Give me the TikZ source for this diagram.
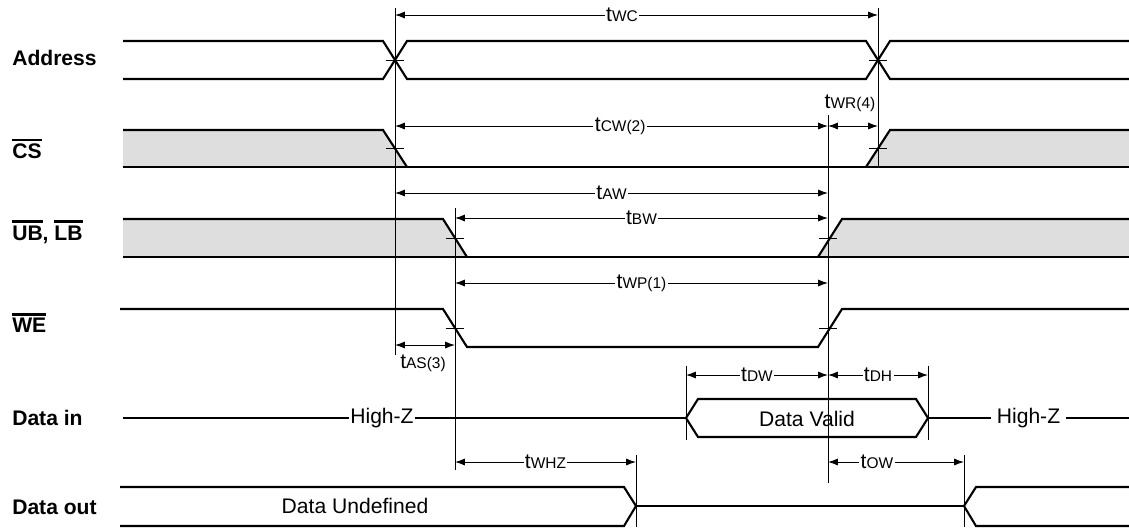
\documentclass[tikz,border=0pt]{standalone}
\usepackage{fontspec}
\setmainfont{Liberation Sans}
\usetikzlibrary{arrows.meta}
\definecolor{lowfill}{HTML}{DEDEDE}
\newcommand{\ovl}[1]{\vbox{\hrule height 1.8pt\kern 2pt\hbox{#1}}}
\newcommand{\tsub}[1]{t{\fontsize{11}{13}\selectfont #1}}
\begin{document}
\begin{tikzpicture}[x=0.025cm,y=-0.025cm,
  font=\fontsize{15}{18}\selectfont,
  signame/.style={anchor=west, inner sep=0pt, font=\fontsize{15}{18}\selectfont\bfseries},
  wave/.style={line width=1.5pt},
  guide/.style={line width=0.7pt},
  span/.style={{Latex[length=7pt,width=5pt]}-{Latex[length=7pt,width=5pt]}, line width=0.7pt},
  tlabel/.style={fill=white, inner sep=1pt}]
  \useasboundingbox (0,0) rectangle (1129,529);

  \node[signame] (addr) at (12,58) {Address};
  \node[signame] (cs) at (12,149) {\ovl{CS}};
  \node[signame] (ublb) at (12,232) {\ovl{UB}, \ovl{LB}};
  \node[signame] (we) at (12,323) {\ovl{WE}};
  \node[signame] (din) at (12,418) {Data in};
  \node[signame] (dout) at (12,507) {Data out};

  \fill[lowfill] (123,130) -- (383,130) -- (407,167) -- (123,167) -- cycle;
  \fill[lowfill] (866,167) -- (890,130) -- (1129,130) -- (1129,167) -- cycle;
  \fill[lowfill] (123,219) -- (443,219) -- (467,257) -- (123,257) -- cycle;
  \fill[lowfill] (818,257) -- (842,219) -- (1129,219) -- (1129,257) -- cycle;

  \draw[guide] (395,8) -- (395,355);
  \draw[guide] (878,8) -- (878,168);
  \draw[guide] (455,208) -- (455,470);
  \draw[guide] (828,115) -- (828,483);
  \draw[guide] (686,366) -- (686,440);
  \draw[guide] (928,366) -- (928,440);
  \draw[guide] (636,455) -- (636,527);
  \draw[guide] (964,455) -- (964,527);
  \foreach \x/\y in {395/60, 878/60, 395/148, 878/148, 455/238, 828/238, 455/328, 828/328}
    \draw[guide] (\x-9,\y) -- (\x+9,\y);

  \draw[wave] (123,41) -- (383,41) -- (407,79) -- (866,79) -- (890,41) -- (1129,41);
  \draw[wave] (123,79) -- (383,79) -- (407,41) -- (866,41) -- (890,79) -- (1129,79);
  \draw[wave] (123,130) -- (383,130) -- (407,167);
  \draw[wave] (866,167) -- (890,130) -- (1129,130);
  \draw[wave] (123,167) -- (1129,167);
  \draw[wave] (123,219) -- (443,219) -- (467,257);
  \draw[wave] (818,257) -- (842,219) -- (1129,219);
  \draw[wave] (123,257) -- (1129,257);
  \draw[wave] (120,309) -- (443,309) -- (467,347) -- (818,347) -- (842,309) -- (1129,309);
  \draw[wave] (123,418) -- node[tlabel,pos=.46] (hz1) {High-Z} (686,418);
  \draw[wave] (686,418) -- (698,399) -- (916,399) -- (928,418) -- (916,437) -- (698,437) -- cycle;
  \node (valid) at (807,419) {Data Valid};
  \draw[wave] (928,418) -- node[tlabel,inner sep=4pt] (hz2) {High-Z} (1129,418);
  \draw[wave] (120,487) -- (624,487) -- (636,506) -- (624,526) -- (120,526);
  \draw[wave] (636,506) -- (964,506);
  \draw[wave] (1129,487) -- (976,487) -- (964,506) -- (976,526) -- (1129,526);
  \node (undef) at (355,506) {Data Undefined};

  \coordinate (wc0) at (395,15);  \coordinate (wc1) at (878,15);
  \coordinate (cw0) at (395,126); \coordinate (cw1) at (828,126);
  \coordinate (wr1) at (878,126);
  \coordinate (aw0) at (395,193); \coordinate (aw1) at (828,193);
  \coordinate (bw0) at (455,218); \coordinate (bw1) at (828,218);
  \coordinate (wp0) at (455,283); \coordinate (wp1) at (828,283);
  \coordinate (as0) at (395,345); \coordinate (as1) at (455,345);
  \coordinate (dw0) at (686,375); \coordinate (dw1) at (828,375);
  \coordinate (dh1) at (928,375);
  \coordinate (hz0) at (455,462); \coordinate (hz9) at (636,462);
  \coordinate (ow0) at (828,462); \coordinate (ow1) at (964,462);

  \draw[span] (wc0) -- node[tlabel,pos=.47] (lwc) {\tsub{WC}} (wc1);
  \draw[span] (cw0) -- node[tlabel,pos=.52] (lcw) {\tsub{CW(2)}} (cw1);
  \draw[span] (cw1) -- (wr1);
  \node (lwr) at (850,103) {\tsub{WR(4)}};
  \draw[span] (aw0) -- node[tlabel] (law) {\tsub{AW}} (aw1);
  \draw[span] (bw0) -- node[tlabel] (lbw) {\tsub{BW}} (bw1);
  \draw[span] (wp0) -- node[tlabel] (lwp) {\tsub{WP(1)}} (wp1);
  \draw[span] (as0) -- (as1);
  \node (las) at (423,363) {\tsub{AS(3)}};
  \draw[span] (dw0) -- node[tlabel] (ldw) {\tsub{DW}} (dw1);
  \draw[span] (dw1) -- node[tlabel] (ldh) {\tsub{DH}} (dh1);
  \draw[span] (hz0) -- node[tlabel] (lwhz) {\tsub{WHZ}} (hz9);
  \draw[span] (ow0) -- node[tlabel,pos=.36] (low) {\tsub{OW}} (ow1);
\end{tikzpicture}
\end{document}
